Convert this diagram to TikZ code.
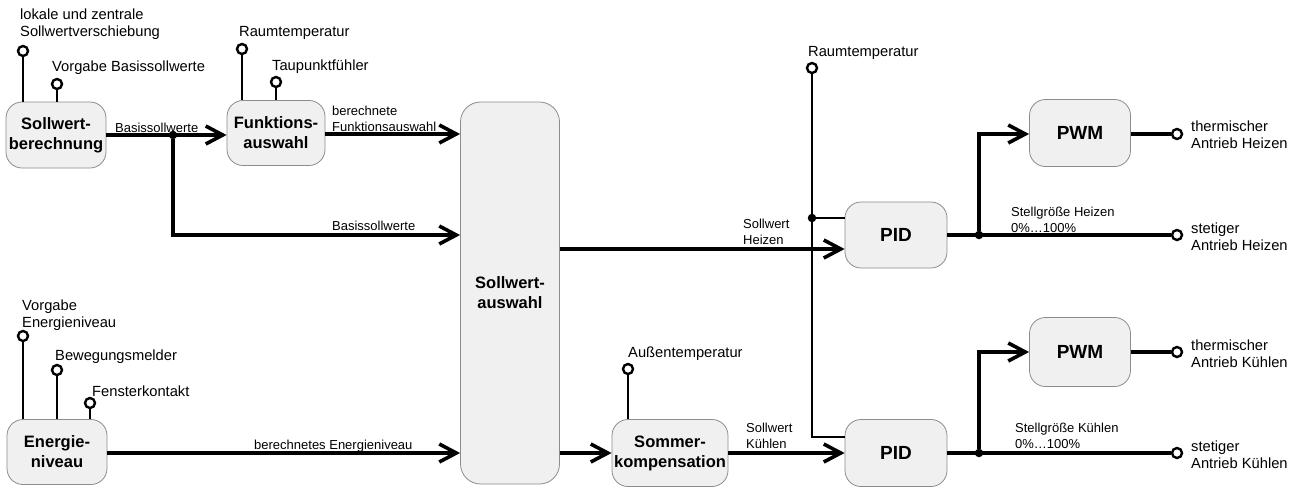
\documentclass[tikz,border=0pt]{standalone}
\usepackage{fontspec}
\setmainfont{Liberation Sans}
\usetikzlibrary{arrows.meta,calc}
\begin{document}
\begin{tikzpicture}[x=1pt,y=-1pt,
  block/.style={draw=black!45, line width=0.8pt, fill=black!6, rounded corners=16pt,
    align=center, inner sep=0pt, font=\fontsize{16.5}{20}\selectfont\bfseries},
  bigblock/.style={block, font=\fontsize{19}{22}\selectfont\bfseries},
  sensor/.style={circle, draw=black, fill=white, line width=2.4pt, minimum size=10pt, inner sep=0pt},
  junction/.style={circle, fill=black, minimum size=8.5pt, inner sep=0pt},
  feed/.style={line width=2.6pt},
  signal/.style={line width=3.6pt, -{Straight Barb[length=17pt,width=18pt,line width=3.6pt]}},
  wire/.style={line width=3.6pt},
  thinwire/.style={line width=2.2pt},
  lbl/.style={inner sep=0pt, align=left, font=\fontsize{14.7}{17}\selectfont},
  slbl/.style={inner sep=0pt, align=left, font=\fontsize{13}{16}\selectfont},
]
\useasboundingbox (0,0) rectangle (1301,488);

% blocks
\node[block, minimum width=100pt, minimum height=66pt] (sb) at (56,135) {Sollwert-\\berechnung};
\node[block, minimum width=98pt, minimum height=65pt] (fa) at (276,133) {Funktions-\\auswahl};
\node[block, minimum width=99pt, minimum height=382pt, rounded corners=20pt] (sa) at (510,293) {Sollwert-\\auswahl};
\node[block, minimum width=100pt, minimum height=65pt] (en) at (57,452) {Energie-\\niveau};
\node[block, minimum width=116pt, minimum height=67pt] (sk) at (670,453) {Sommer-\\kompensation};
\node[bigblock, minimum width=102pt, minimum height=66pt] (pidH) at (896,235) {PID};
\node[bigblock, minimum width=101pt, minimum height=67pt] (pwmH) at (1080,133) {PWM};
\node[bigblock, minimum width=102pt, minimum height=67pt] (pidK) at (896,453) {PID};
\node[bigblock, minimum width=101pt, minimum height=69pt] (pwmK) at (1080,352) {PWM};

% sensor inputs
\node[sensor] (s1) at (23,51) {};
\node[sensor] (s2) at (57,84) {};
\node[sensor] (s3) at (242,49) {};
\node[sensor] (s4) at (276,82) {};
\node[sensor] (s5) at (23,336) {};
\node[sensor] (s6) at (57,370) {};
\node[sensor] (s7) at (90,403) {};
\node[sensor] (s8) at (628,369) {};
\node[sensor] (rt) at (812,68) {};
\draw[feed] (s1) -- (s1 |- sb.north);
\draw[feed] (s2) -- (s2 |- sb.north);
\draw[feed] (s3) -- (s3 |- fa.north);
\draw[feed] (s4) -- (s4 |- fa.north);
\draw[feed] (s5) -- (s5 |- en.north);
\draw[feed] (s6) -- (s6 |- en.north);
\draw[feed] (s7) -- (s7 |- en.north);
\draw[feed] (s8) -- (s8 |- sk.north);

\node[lbl, anchor=west] (l1) at (20,24) {lokale und zentrale\\Sollwertverschiebung};
\node[lbl, anchor=west] (l2) at (52,68) {Vorgabe Basissollwerte};
\node[lbl, anchor=west] (l3) at (239,33) {Raumtemperatur};
\node[lbl, anchor=west] (l4) at (272,67) {Taupunktfühler};
\node[lbl, anchor=west] (l5) at (22,315) {Vorgabe\\Energieniveau};
\node[lbl, anchor=west] (l6) at (55,357) {Bewegungsmelder};
\node[lbl, anchor=west] (l7) at (92,391) {Fensterkontakt};
\node[lbl, anchor=west] (l8) at (628,354) {Außentemperatur};
\node[lbl, anchor=west] (l9) at (808,53) {Raumtemperatur};

% room temperature feedback to both controllers
\coordinate (rtb) at (812,437);
\node[junction] (j3) at (812,218) {};
\draw[thinwire] (rt) -- (rtb) -- (rtb -| pidK.west);
\draw[thinwire] (j3) -- (j3 -| pidH.west);

% setpoint calculation path
\node[junction] (j1) at (173,135) {};
\draw[signal] (sb.east |- j1) -- (fa.west |- j1);
\coordinate (j1b) at (173,235);
\draw[signal] (j1) -- (j1b) -- (j1b -| sa.west);
\draw[signal] (fa.east |- 0,134) -- (sa.west |- 0,134);
\draw[signal] (en.east |- 0,453) -- (sa.west |- 0,453);
\draw[signal] (sa.east |- 0,453) -- (sk.west |- 0,453);
\draw[signal] (sa.east |- 0,249) -- (pidH.west |- 0,249);
\draw[signal] (sk.east |- 0,453) -- (pidK.west |- 0,453);

\node[slbl, anchor=west] (a1) at (115,128) {Basissollwerte};
\node[slbl, anchor=west] (a2) at (332,119) {berechnete\\Funktionsauswahl};
\node[slbl, anchor=west] (a3) at (332,226) {Basissollwerte};
\node[slbl, anchor=west] (a4) at (254,446) {berechnetes Energieniveau};
\node[slbl, anchor=west] (a5) at (743,232) {Sollwert\\Heizen};
\node[slbl, anchor=west] (a6) at (746,436) {Sollwert\\Kühlen};

% heating outputs
\node[sensor] (oH1) at (1177,134) {};
\node[sensor] (oH2) at (1177,235) {};
\node[junction] (jH) at (979,235) {};
\draw[wire] (pidH.east |- jH) -- (oH2);
\coordinate (jHt) at (979,134);
\draw[signal] (jH) -- (jHt) -- (pwmH.west |- jHt);
\draw[wire] (pwmH.east |- oH1) -- (oH1);
\node[slbl, anchor=west] (a7) at (1011,220) {Stellgröße Heizen\\0\%…100\%};
\node[lbl, anchor=west] (o1) at (1191,135) {thermischer\\Antrieb Heizen};
\node[lbl, anchor=west] (o2) at (1191,237) {stetiger\\Antrieb Heizen};

% cooling outputs
\node[sensor] (oK1) at (1177,352) {};
\node[sensor] (oK2) at (1177,453) {};
\node[junction] (jK) at (979,453) {};
\draw[wire] (pidK.east |- jK) -- (oK2);
\coordinate (jKt) at (979,352);
\draw[signal] (jK) -- (jKt) -- (pwmK.west |- jKt);
\draw[wire] (pwmK.east |- oK1) -- (oK1);
\node[slbl, anchor=west] (a8) at (1015,436) {Stellgröße Kühlen\\0\%…100\%};
\node[lbl, anchor=west] (o3) at (1191,354) {thermischer\\Antrieb Kühlen};
\node[lbl, anchor=west] (o4) at (1191,455) {stetiger\\Antrieb Kühlen};
\end{tikzpicture}
\end{document}
